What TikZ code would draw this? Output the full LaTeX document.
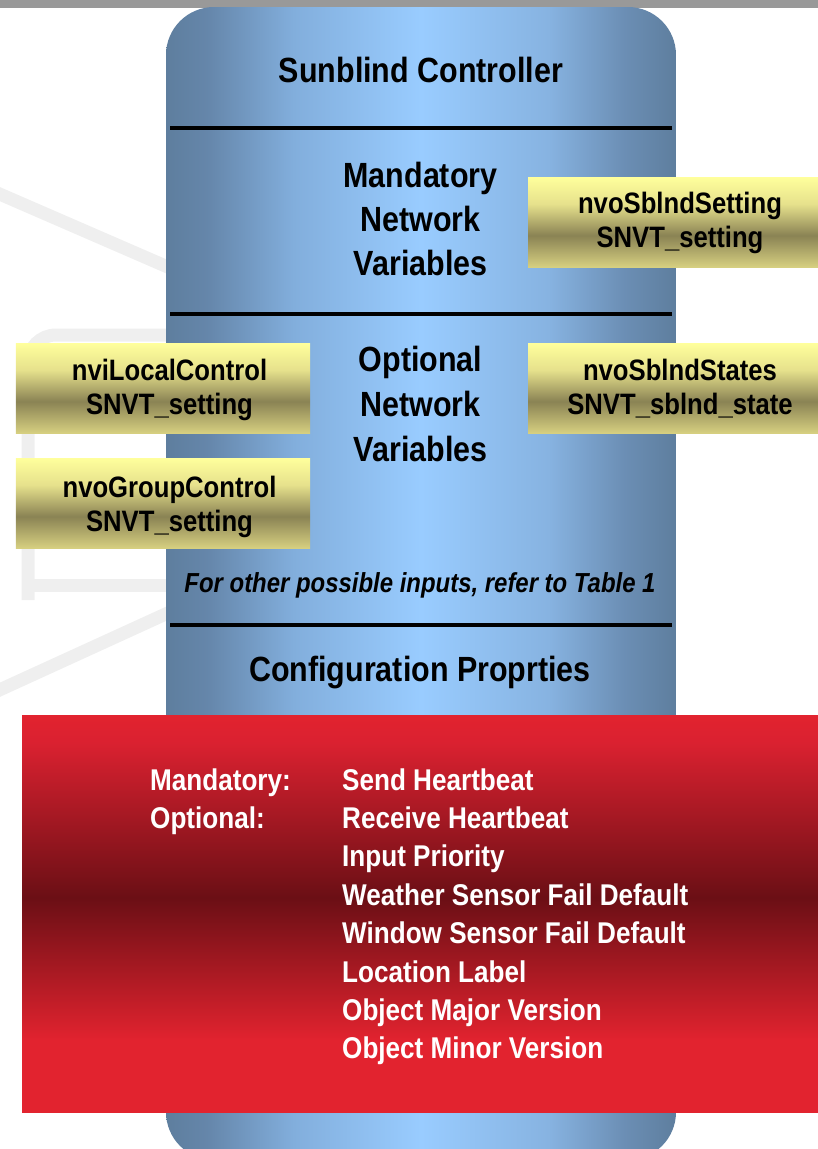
\documentclass[tikz,border=0pt]{standalone}
\usepackage{fontspec}
\setmainfont{Liberation Sans}[FakeStretch=0.87]
\definecolor{barg}{HTML}{999999}
\definecolor{wm}{HTML}{EFEFEF}
\definecolor{bE}{HTML}{5E7E9E}
\definecolor{b1}{HTML}{6586AA}
\definecolor{b2}{HTML}{82AEDC}
\definecolor{bC}{HTML}{99CCFF}
\definecolor{b3}{HTML}{87B3E1}
\definecolor{b4}{HTML}{6B8EB4}
\definecolor{rA}{HTML}{E2232F}
\definecolor{rB}{HTML}{DA2130}
\definecolor{rD}{HTML}{6B0F15}
\definecolor{yT}{HTML}{FFFF9C}
\definecolor{yM}{HTML}{E6E18C}
\definecolor{yD}{HTML}{8A8354}
\definecolor{yB}{HTML}{D6CF80}
\pgfdeclarehorizontalshading{bluesh}{100bp}{color(0bp)=(bE); color(25bp)=(bE); color(29bp)=(b1); color(37.5bp)=(b2); color(50bp)=(bC); color(62.5bp)=(b3); color(70bp)=(b4); color(75bp)=(bE); color(100bp)=(bE)}
\pgfdeclareverticalshading{redsh}{100bp}{color(0bp)=(rA); color(25bp)=(rA); color(34bp)=(rA); color(52bp)=(rD); color(71.5bp)=(rB); color(75bp)=(rA); color(100bp)=(rA)}
\pgfdeclareverticalshading{yelsh}{100bp}{color(0bp)=(yB); color(25bp)=(yB); color(42.5bp)=(yD); color(60bp)=(yM); color(75bp)=(yT); color(100bp)=(yT)}
\newcommand\myfs[1]{\fontsize{#1bp}{#1bp}\selectfont\bfseries}
\begin{document}
\begin{tikzpicture}[x=1bp,y=-1bp,
  ybox/.style={shading=yelsh, minimum width=294bp, minimum height=90bp, inner sep=0pt, outer sep=0pt},
  ytext/.style={anchor=base, font=\myfs{29.5}, inner sep=0pt},
  mtext/.style={anchor=base, font=\myfs{35}, inner sep=0pt},
  rtext/.style={anchor=base west, font=\myfs{30}, text=white, inner sep=0pt},
  sepline/.style={line width=4bp, black},
  wmline/.style={wm, line width=13bp}]
\useasboundingbox (0,0) rectangle (818,1149);
\clip (0,0) rectangle (818,1149);
% top bar
\fill[barg] (0,0) rectangle (818,8);
% faint watermark (partly hidden logo)
\draw[wmline] (-5,192) -- (170,268);
\draw[wmline] (-5,692) -- (170,612);
\draw[wmline, rounded corners=28bp] (28,600) -- (28,335) -- (170,335);
\draw[wmline] (28,585) -- (170,585);
% main column
\path[shading=bluesh, rounded corners=48bp] (166,7) rectangle (676,1160);
\coordinate (l1a) at (170,128); \coordinate (l1b) at (672,128);
\coordinate (l2a) at (170,314); \coordinate (l2b) at (672,314);
\coordinate (l3a) at (170,625); \coordinate (l3b) at (672,625);
\draw[sepline] (l1a) -- (l1b);
\draw[sepline] (l2a) -- (l2b);
\draw[sepline] (l3a) -- (l3b);
\node[mtext] (title) at (421,82) {Sunblind Controller};
\node[mtext] (m1) at (420.5,187) {Mandatory};
\node[mtext] (m2) at (420.5,231) {Network};
\node[mtext] (m3) at (420.5,275) {Variables};
\node[mtext] (o1) at (420.5,371) {Optional};
\node[mtext] (o2) at (420.5,416) {Network};
\node[mtext] (o3) at (420.5,461) {Variables};
\node[anchor=base, font=\myfs{27.5}\itshape, inner sep=0pt] (note) at (420,592) {For other possible inputs, refer to Table 1};
\node[mtext] (cfgt) at (420,681) {Configuration Proprties};
% yellow boxes
\node[ybox] (ya) at (163,388) {};
\node[ytext] (ya1) at (169.5,380) {nviLocalControl};
\node[ytext] (ya2) at (169.5,414) {SNVT\_setting};
\node[ybox] (yb) at (163,503) {};
\node[ytext] (yb1) at (169.5,497) {nvoGroupControl};
\node[ytext] (yb2) at (169.5,531) {SNVT\_setting};
\node[ybox] (yc) at (675,222) {};
\node[ytext] (yc1) at (680,213) {nvoSblndSetting};
\node[ytext] (yc2) at (680,247) {SNVT\_setting};
\node[ybox] (yd) at (675,388) {};
\node[ytext] (yd1) at (680,380) {nvoSblndStates};
\node[ytext] (yd2) at (680,414) {SNVT\_sblnd\_state};
% red box
\path[shading=redsh] (22,715) rectangle (820,1112);
\node[rtext] (k1) at (150,790) {Mandatory:};
\node[rtext] (k2) at (150,828.4) {Optional:};
\node[rtext] (v1) at (342,790) {Send Heartbeat};
\node[rtext] (v2) at (342,828.4) {Receive Heartbeat};
\node[rtext] (v3) at (342,866.8) {Input Priority};
\node[rtext] (v4) at (342,905.2) {Weather Sensor Fail Default};
\node[rtext] (v5) at (342,943.6) {Window Sensor Fail Default};
\node[rtext] (v6) at (342,982) {Location Label};
\node[rtext] (v7) at (342,1020.4) {Object Major Version};
\node[rtext] (v8) at (342,1058.8) {Object Minor Version};
\end{tikzpicture}
\end{document}
